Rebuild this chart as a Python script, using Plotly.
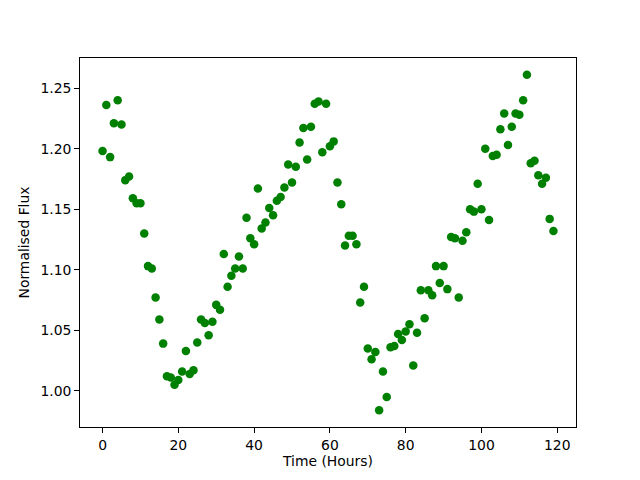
import plotly.graph_objects as go

hours = list(range(120))
flux = [
    1.198, 1.236, 1.193, 1.221, 1.240, 1.220, 1.174, 1.177, 1.159, 1.155,
    1.155, 1.130, 1.103, 1.101, 1.077, 1.059, 1.039, 1.012, 1.011, 1.005,
    1.009, 1.016, 1.033, 1.014, 1.017, 1.040, 1.059, 1.056, 1.046, 1.057,
    1.071, 1.067, 1.113, 1.086, 1.095, 1.101, 1.111, 1.101, 1.143, 1.126,
    1.121, 1.167, 1.134, 1.139, 1.151, 1.145, 1.157, 1.160, 1.168, 1.187,
    1.172, 1.185, 1.205, 1.217, 1.191, 1.218, 1.237, 1.239, 1.197, 1.237,
    1.202, 1.206, 1.172, 1.154, 1.120, 1.128, 1.128, 1.121, 1.073, 1.086,
    1.035, 1.026, 1.032, 0.984, 1.016, 0.995, 1.036, 1.037, 1.047, 1.042,
    1.049, 1.055, 1.021, 1.048, 1.083, 1.060, 1.083, 1.079, 1.103, 1.089,
    1.103, 1.084, 1.127, 1.126, 1.077, 1.124, 1.131, 1.150, 1.148, 1.171,
    1.150, 1.200, 1.141, 1.194, 1.195, 1.216, 1.229, 1.203, 1.218, 1.229,
    1.228, 1.240, 1.261, 1.188, 1.190, 1.178, 1.171, 1.176, 1.142, 1.132,
]
x_ticks = [0, 20, 40, 60, 80, 100, 120]
y_ticks = [1.00, 1.05, 1.10, 1.15, 1.20, 1.25]

fig = go.Figure(go.Scatter(
    x=hours, y=flux, mode="markers",
    marker=dict(color="#008000", size=8.5, line=dict(width=0)),
))

xmin, xmax = min(hours), max(hours)
ymin, ymax = min(flux), max(flux)
xm = (xmax - xmin) * 0.05
ym = (ymax - ymin) * 0.05

FONT = dict(family="DejaVu Sans", size=13.9, color="black")

axis_common = dict(
    showline=True, linecolor="black", linewidth=1, mirror=True,
    ticks="outside", ticklen=4.9, tickwidth=1, tickcolor="black",
    showgrid=False, zeroline=False, automargin=False,
    tickfont=FONT,
)

fig.update_layout(
    width=624, height=464,
    margin=dict(l=72, r=56, t=49.6, b=44.8),
    plot_bgcolor="white", paper_bgcolor="white",
    showlegend=False,
    font=FONT,
    xaxis=dict(range=[xmin - xm, xmax + xm], tickvals=x_ticks,
               title=dict(text="Time (Hours)", standoff=4, font=FONT), **axis_common),
    yaxis=dict(range=[ymin - ym, ymax + ym], tickvals=y_ticks, tickformat=".2f",
               title=dict(text="Normalised Flux", standoff=7, font=FONT), **axis_common),
)

fig.write_html("out.html")
